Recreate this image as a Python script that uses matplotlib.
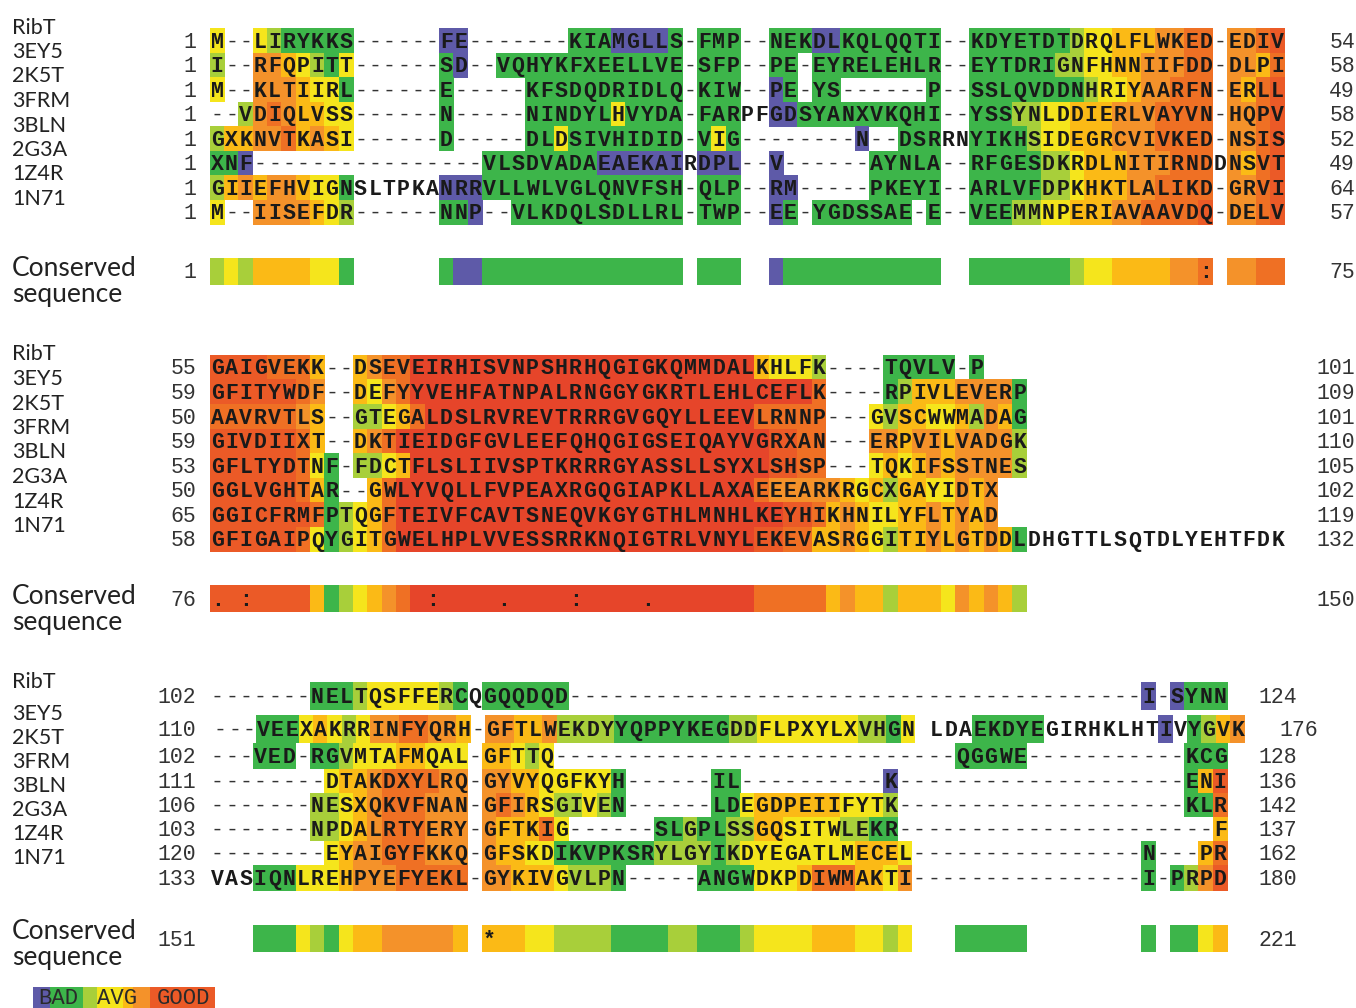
import matplotlib
matplotlib.use('Agg')
from matplotlib import pyplot as plt
from matplotlib.patches import Rectangle

names = ['RibT', '3EY5', '2K5T', '3FRM', '3BLN', '2G3A', '1Z4R', '1N71']

# consistency score -> colour (0 = bad ... 9 = good)
palette = {'0': '#5e5aa8', '1': '#3db54a', '2': '#6cbf45', '3': '#a8cf3a',
           '4': '#f5e51c', '5': '#fbba16', '6': '#f4922a', '7': '#ef7024',
           '8': '#eb5a27', '9': '#e6452a'}

# ---- block 1 -----------------------------------------------------------
seq1 = ['M--LIRYKKS------FE-------KIAMGLLS-FMP--NEKDLKQLQQTI--KDYETDTDRQLFLWKED-EDIV',
        'I--RFQPITT------SD--VQHYKFXEELLVE-SFP--PE-EYRELEHLR--EYTDRIGNFHNNIIFDD-DLPI',
        'M--KLTIIRL------E-----KFSDQDRIDLQ-KIW--PE-YS------P--SSLQVDDNHRIYAARFN-ERLL',
        '--VDIQLVSS------N-----NINDYLHVYDA-FARPFGDSYANXVKQHI--YSSYNLDDIERLVAYVN-HQPV',
        'GXKNVTKASI------D-----DLDSIVHIDID-VIG--------N--DSRRNYIKHSIDEGRCVIVKED-NSIS',
        'XNF' + '-' * 16 + 'VLSDVADAEAEKAIRDPL--V------AYNLA--RFGESDKRDLNITIRNDDNSVT',
        'GIIEFHVIGNSLTPKANRRVLLWLVGLQNVFSH-QLP--RM-----PKEYI--ARLVFDPKHKTLALIKD-GRVI',
        'M--IISEFDR------NNP--VLKDQLSDLLRL-TWP--EE-YGDSSAE-E--VEEMMNPERIAVAAVDQ-DELV']
score1 = ['4..4311111......00.......11100001.111..111001111111..11111113445556677.6678',
          '3..6654314......10..1111111111111.111..11.111111111..11111133445566677.6657',
          '4..6665441......1.....11111111111.111..01.11......1..11111111344566777.6578',
          '..36765544......1.....11111141111.111..001111111111..11133445556667777.6678',
          '3556675654......1.....11411111111.141........0..111..11113445556667777.6678',
          '110' + '.' * 16 + '11111111000000.000..0......11111..11111334555666777.6578',
          '3565665441......00011111111111111.111..00.....11111..11111334555667777.6678',
          '4..6666543......110..111111111111.111..01.1111111.1..11133445556677778.6678']
cons1 = '3435555441......10011111111111111.111..011111111111..11111113445555667.6677'
marks1 = {69: ':'}
start1 = [1, 1, 1, 1, 1, 1, 1, 1]
end1 = [54, 58, 49, 58, 52, 49, 64, 57]
range1 = (1, 75)

# ---- block 2 -----------------------------------------------------------
seq2 = ['GAIGVEKK--DSEVEIRHISVNPSHRHQGIGKQMMDALKHLFK----TQVLV-P',
        'GFITYWDF--DEFYYVEHFATNPALRNGGYGKRTLEHLCEFLK----RPIVLEVERP',
        'AAVRVTLS--GTEGALDSLRVREVTRRRGVGQYLLEEVLRNNP---GVSCWWMADAG',
        'GIVDIIXT--DKTIEIDGFGVLEEFQHQGIGSEIQAYVGRXAN---ERPVILVADGK',
        'GFLTYDTNF-FDCTFLSLIIVSPTKRRRGYASSLLSYXLSHSP---TQKIFSSTNES',
        'GGLVGHTAR--GWLYVQLLFVPEAXRGQGIAPKLLAXAEEEARKRGCXGAYIDTX',
        'GGICFRMFPTQGFTEIVFCAVTSNEQVKGYGTHLMNHLKEYHIKHNILYFLTYAD',
        'GFIGAIPQYGITGWELHPLVVESSRRKNQIGTRLVNYLEKEVASRGGITIYLGTDDLDHGTTLSQTDLYEHTFDK']
score2 = ['88887775..5677' + '9' * 24 + '54443....11111.1',
          '88888876..5467' + '9' * 28 + '7....1355566661',
          '77777765..33457' + '9' * 23 + '77777...43554453651',
          '88888875..5679' + '9' * 24 + '98877...66566566663',
          '888888741.3345' + '9' * 24 + '98877...45456566663',
          '888888751..57' + '9' * 25 + '76666654535544656',
          '8888888713457' + '9' * 25 + '99887565445565656',
          '8888887413457' + '9' * 25 + '8877556543556565651']
cons2 = '88888885134567' + '9' * 24 + '7777756553555465653'
marks2 = {0: '.', 2: ':', 15: ':', 20: '.', 25: ':', 30: '.'}
start2 = [55, 59, 50, 59, 53, 50, 65, 58]
end2 = [101, 109, 101, 110, 105, 102, 119, 132]
range2 = (76, 150)

# ---- block 3 -----------------------------------------------------------
seq3 = ['-------NELTQSFFERCQGQQDQD' + '-' * 40 + 'I-SYNN',
        '---VEEXAKRRINFYQRH-GFTLWEKDYYQPPYKEGDDFLPXYLXVHGN LDAEKDYEGIRHKLHTIVYGVK',
        '---VED-RGVMTAFMQAL-GFTTQ' + '-' * 28 + 'QGGWE' + '-' * 11 + 'KCG',
        '--------DTAKDXYLRQ-GYVYQGFKYH------IL----------K' + '-' * 20 + 'ENI',
        '-------NESXQKVFNAN-GFIRSGIVEN------LDEGDPEIIFYTK' + '-' * 20 + 'KLR',
        '-------NPDALRTYERY-GFTKIG------SLGPLSSGQSITWLEKR' + '-' * 22 + 'F',
        '--------EYAIGYFKKQ-GFSKDIKVPKSRYLGYIKDYEGATLMECEL' + '-' * 16 + 'N---PR',
        'VASIQNLREHPYEFYEKL-GYKIVGVLPN-----ANGWDKPDIWMAKTI' + '-' * 16 + 'I-PRPD']
score3 = ['.......11134444431.111111' + '.' * 40 + '0.0111',
          '...111454346677665.665563333111111113344444443314....11111........0.1356',
          '...111.11344455444.55434' + '.' * 28 + '11111' + '.' * 11 + '111',
          '........4556777766.6655444441......11..........0' + '.' * 20 + '158',
          '.......33456777666.6765433431......1145555554443' + '.' * 20 + '117',
          '.......33456777666.655574......11311335544443311' + '.' * 22 + '5',
          '........4566777666.655441111111333313444444445554' + '.' * 16 + '1...57',
          '...111444566677777.6655543331.....111144457775546' + '.' * 16 + '1.1368']
cons3 = '...111431455666665.' + '555443333111133111344445554434' + '...11111' + '.' * 8 + '1.1145'
marks3 = {19: '*'}
start3 = [102, 110, 102, 111, 106, 103, 120, 133]
end3 = [124, 176, 128, 136, 142, 137, 162, 180]
range3 = (151, 221)

legend_labels = ['BAD', 'AVG', 'GOOD']
legend_levels = ['0', '1', '3', '4', '5', '6', '8']

# ---- layout (pixels) -----------------------------------------------------
W, H = 1356, 1008
X0, CW = 210.0, 14.33
MONO = 'Liberation Mono'
SANS = 'Lato'
FS = 15.5

fig = plt.figure(figsize=(W / 100, H / 100), dpi=100)
ax = fig.add_axes([0, 0, 1, 1])
ax.set_xlim(0, W)
ax.set_ylim(H, 0)
ax.axis('off')

blocks = [
    dict(seq=seq1, score=score1, cons=cons1, marks=marks1, start=start1, end=end1, rng=range1,
         tops=[28.3 + 24.5 * i for i in range(8)], hts=[24.5] * 8, bar=(258, 27),
         lab=[33.5 + 24.5 * i for i in range(8)], cons_lab=(276, 302), end_x=1355, end_x2=1355, dx2=0),
    dict(seq=seq2, score=score2, cons=cons2, marks=marks2, start=start2, end=end2, rng=range2,
         tops=[355 + 24.6 * i for i in range(8)], hts=[24.6] * 8, bar=(585, 27),
         lab=[360.5 + 24.5 * i for i in range(8)], cons_lab=(604, 630), end_x=1355, end_x2=1355, dx2=0),
    dict(seq=seq3, score=score3, cons=cons3, marks=marks3, start=start3, end=end3, rng=range3,
         tops=[682, 715, 743, 769, 793, 817, 841, 865], hts=[28, 28, 26, 24, 24, 24, 24, 26], bar=(925, 27),
         lab=[688.5, 720.5, 744.5, 768.5, 792.5, 816.5, 840.5, 864.5], cons_lab=(939, 965),
         end_x=1297, end_x2=1318, dx2=3),
]

for bi, b in enumerate(blocks):
    for r in range(8):
        s, sc = b['seq'][r], b['score'][r]
        top, h = b['tops'][r], b['hts'][r]
        yc = top + h / 2
        dx = b['dx2'] if r == 1 else 0
        for i, ch in enumerate(s):
            x = X0 + dx + i * CW
            lev = sc[i] if i < len(sc) else '.'
            if ch not in '- ' and lev in palette:
                ax.add_patch(Rectangle((x - 0.3, top - 0.3), CW + 0.6, h + 0.6,
                                       facecolor=palette[lev], edgecolor='none', zorder=1))
            if ch == '-':
                ax.text(x + CW / 2, yc + 7, ch, ha='center', va='baseline', fontsize=FS,
                        family=MONO, color='#333333', zorder=3)
            elif ch != ' ':
                ax.text(x + CW / 2, yc + 7, ch, ha='center', va='baseline', fontsize=FS,
                        family=MONO, weight='bold', color='#1a1a1a', zorder=3)
        ax.text(196, yc + 7, str(b['start'][r]), ha='right', va='baseline', fontsize=FS,
                family=MONO, color='#333333')
        ex = b['end_x2'] if r == 1 else b['end_x']
        ax.text(ex, yc + 7, str(b['end'][r]), ha='right', va='baseline', fontsize=FS,
                family=MONO, color='#333333')
        ax.text(12, b['lab'][r], names[r], ha='left', va='baseline', fontsize=15.5,
                family=SANS, color='#222222')

    # conserved sequence bar
    btop, bh = b['bar']
    for i, lev in enumerate(b['cons']):
        if lev in palette:
            ax.add_patch(Rectangle((X0 + i * CW - 0.3, btop), CW + 0.6, bh,
                                   facecolor=palette[lev], edgecolor='none', zorder=1))
    for i, m in b['marks'].items():
        ax.text(X0 + i * CW + CW / 2, btop + bh / 2 + 7, m, ha='center', va='baseline',
                fontsize=FS, family=MONO, weight='bold', color='#1a1a1a', zorder=3)
    ax.text(196, btop + bh / 2 + 7, str(b['rng'][0]), ha='right', va='baseline', fontsize=FS,
            family=MONO, color='#333333')
    ax.text(b['end_x'], btop + bh / 2 + 7, str(b['rng'][1]), ha='right', va='baseline', fontsize=FS,
            family=MONO, color='#333333')
    ax.text(12, b['cons_lab'][0], 'Conserved', ha='left', va='baseline', fontsize=19,
            family=SANS, color='#222222')
    ax.text(12, b['cons_lab'][1], 'sequence', ha='left', va='baseline', fontsize=19,
            family=SANS, color='#222222')

# legend strip
edges = [33, 50, 83, 97, 123, 133, 150, 214]
for k, lev in enumerate(legend_levels):
    ax.add_patch(Rectangle((edges[k], 987), edges[k + 1] - edges[k] + 0.5, 21,
                           facecolor=palette[lev], edgecolor='none', zorder=1))
for lab, xc in zip(legend_labels, [58, 117, 183]):
    ax.text(xc, 1004, lab, ha='center', va='baseline', fontsize=16, family=MONO,
            color='#2a2a2a', zorder=3)

fig.savefig('out.png', dpi=100)
